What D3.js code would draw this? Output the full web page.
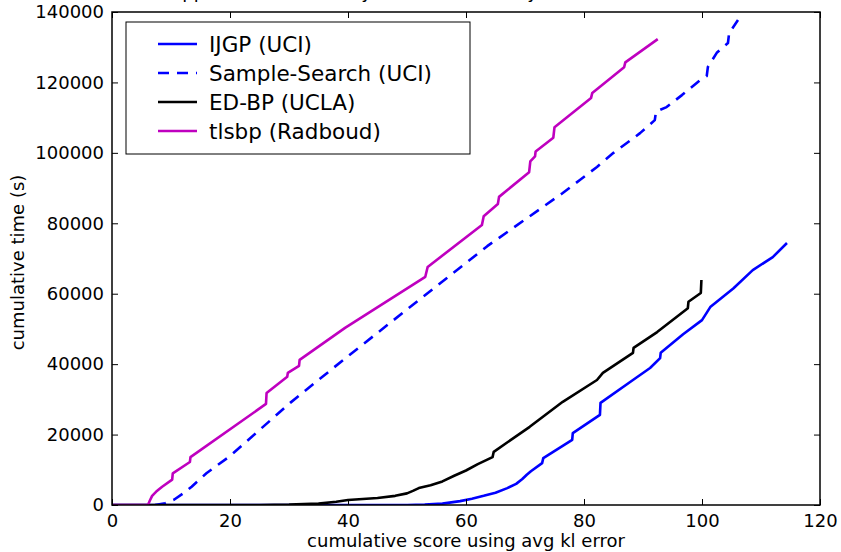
<!DOCTYPE html>
<html>
<head>
<meta charset="utf-8">
<script src="https://cdn.jsdelivr.net/npm/d3@7"></script>
<style>
  html, body { margin: 0; padding: 0; background: #fff; }
  svg { display: block; font-family: "DejaVu Sans", sans-serif; }
</style>
</head>
<body>
<svg id="chart" width="841" height="552"></svg>
<script>
// Cumulative score (x) vs cumulative time in seconds (y) for each solver.
const ijgpX = [0, 50, 53, 56, 59, 61, 63, 65, 67, 68.5, 69.5, 70.3, 71, 72.9, 73.1, 78, 78.1, 82.7, 82.8, 88.3, 91.2, 92.9, 93.0, 96.8, 100, 101.4, 105.3, 108.6, 112, 114.4];
const ijgpY = [0, 0, 100, 400, 1100, 1800, 2600, 3500, 4800, 6000, 7300, 8600, 9600, 11900, 13300, 18500, 20400, 25600, 29000, 35500, 38900, 41700, 43200, 48500, 52500, 56200, 61500, 66700, 70400, 74400];

const sampleX = [7.3, 9, 10.5, 12, 13.5, 16, 20, 25, 30.2, 39.2, 52.7, 63.6, 76.4, 79.3, 82.2, 85, 89.5, 92, 92.2, 94, 96.6, 99.7, 100.8, 101, 102.5, 104.4, 104.6, 106.1];
const sampleY = [0, 500, 1500, 3200, 5200, 9000, 13900, 21300, 29000, 41200, 59100, 73500, 88600, 92300, 96000, 100000, 105600, 109300, 111700, 113000, 116400, 120700, 121800, 124400, 128400, 131200, 134000, 137700];

const edbpX = [0, 25, 30, 35, 38, 40, 45, 48, 50, 51, 52, 54, 56, 58, 60, 62, 64.5, 64.7, 70.8, 76.4, 82.2, 83.2, 88.3, 88.4, 92.4, 97.6, 97.7, 99.8, 99.9];
const edbpY = [0, 0, 100, 400, 900, 1400, 2000, 2600, 3300, 4000, 4800, 5600, 6700, 8300, 9800, 11600, 13600, 15100, 22200, 29300, 35500, 37500, 43200, 44600, 49100, 55900, 57700, 60200, 63900];

const tlsbpX = [0, 6.1, 6.4, 6.8, 7.5, 8.5, 10.2, 10.3, 13.2, 13.3, 26.1, 26.2, 29.7, 29.8, 31.7, 31.8, 39.5, 53.1, 53.5, 62.7, 63.0, 65.4, 65.6, 70.7, 70.9, 71.7, 71.8, 74.8, 75.0, 81.2, 81.4, 86.8, 87.0, 92.5];
const tlsbpY = [0, 0, 1200, 2600, 3800, 5200, 7200, 9000, 12200, 13600, 28700, 31800, 36400, 37500, 39500, 41200, 50300, 64800, 67600, 79500, 82000, 85500, 87500, 94500, 97600, 99000, 100400, 104300, 107300, 115600, 117000, 124300, 125700, 132300];

const seriesNames = ["IJGP (UCI)", "Sample-Search (UCI)", "ED-BP (UCLA)", "tlsbp (Radboud)"];
const seriesColors = ["#0000ff", "#0000ff", "#000000", "#bf00bf"];
const seriesDashes = [null, "11,8", null, null];
const seriesX = [ijgpX, sampleX, edbpX, tlsbpX];
const seriesY = [ijgpY, sampleY, edbpY, tlsbpY];

const xTicks = [0, 20, 40, 60, 80, 100, 120];
const yTicks = [0, 20000, 40000, 60000, 80000, 100000, 120000, 140000];

const titleText = "Approximate accuracy of each solver, by cumulative time";
const xLabel = "cumulative score using avg kl error";
const yLabel = "cumulative time (s)";

const svg = d3.select("#chart");
const m = { left: 112, right: 820, top: 12, bottom: 505 };

const x = d3.scaleLinear().domain([0, 120]).range([m.left, m.right]);
const y = d3.scaleLinear().domain([0, 140000]).range([m.bottom, m.top]);

// Title sits above the frame, mostly past the top edge of the page
svg.append("text")
  .attr("x", 170).attr("y", -2)
  .attr("font-size", 18).attr("fill", "#000")
  .text(titleText);

const clip = svg.append("defs").append("clipPath").attr("id", "plotclip");
clip.append("rect").attr("x", m.left).attr("y", m.top)
  .attr("width", m.right - m.left).attr("height", m.bottom - m.top);

const line = d3.line().x(d => x(d[0])).y(d => y(d[1]));

const lines = svg.append("g").attr("clip-path", "url(#plotclip)");
seriesNames.forEach((name, i) => {
  const pts = seriesX[i].map((v, j) => [v, seriesY[i][j]]);
  lines.append("path")
    .datum(pts)
    .attr("d", line)
    .attr("fill", "none")
    .attr("stroke", seriesColors[i])
    .attr("stroke-width", 2.6)
    .attr("stroke-linejoin", "round")
    .attr("stroke-dasharray", seriesDashes[i]);
});

// Axes: ticks point inward on all four sides
const tickLen = 6;
const axB = svg.append("g").attr("transform", `translate(0,${m.bottom})`)
  .call(d3.axisBottom(x).tickValues(xTicks).tickSize(-tickLen).tickPadding(tickLen + 3).tickFormat(d3.format("d")));
const axT = svg.append("g").attr("transform", `translate(0,${m.top})`)
  .call(d3.axisTop(x).tickValues(xTicks).tickSize(-tickLen).tickFormat(""));
const axL = svg.append("g").attr("transform", `translate(${m.left},0)`)
  .call(d3.axisLeft(y).tickValues(yTicks).tickSize(-tickLen).tickPadding(tickLen + 2).tickFormat(d3.format("d")));
const axR = svg.append("g").attr("transform", `translate(${m.right},0)`)
  .call(d3.axisRight(y).tickValues(yTicks).tickSize(-tickLen).tickFormat(""));

[axB, axT, axL, axR].forEach(g => {
  g.select(".domain").remove();
  g.selectAll(".tick line").attr("stroke", "#000").attr("stroke-width", 1);
  g.selectAll(".tick text").attr("font-size", 18).attr("fill", "#000")
    .attr("font-family", "DejaVu Sans, sans-serif");
});
axB.selectAll(".tick text").attr("dy", "0.71em");

svg.append("rect")
  .attr("x", m.left).attr("y", m.top)
  .attr("width", m.right - m.left).attr("height", m.bottom - m.top)
  .attr("fill", "none").attr("stroke", "#000").attr("stroke-width", 1.5);

svg.append("text")
  .attr("x", (m.left + m.right) / 2).attr("y", 547)
  .attr("text-anchor", "middle").attr("font-size", 18).attr("fill", "#000")
  .text(xLabel);

svg.append("text")
  .attr("transform", `translate(24,${(m.top + m.bottom) / 2 + 4}) rotate(-90)`)
  .attr("text-anchor", "middle").attr("font-size", 18).attr("fill", "#000")
  .text(yLabel);

// Legend
const lg = svg.append("g");
lg.append("rect").attr("x", 126).attr("y", 22).attr("width", 344).attr("height", 132)
  .attr("fill", "#fff").attr("stroke", "#000").attr("stroke-width", 1);
seriesNames.forEach((name, i) => {
  const cy = 44 + i * 29;
  lg.append("line").attr("x1", 158).attr("x2", 197).attr("y1", cy).attr("y2", cy)
    .attr("stroke", seriesColors[i]).attr("stroke-width", 2.6)
    .attr("stroke-dasharray", seriesDashes[i]);
  lg.append("text").attr("x", 209).attr("y", cy).attr("dy", "0.36em")
    .attr("font-size", 21.5).attr("fill", "#000").text(name);
});
</script>
</body>
</html>
